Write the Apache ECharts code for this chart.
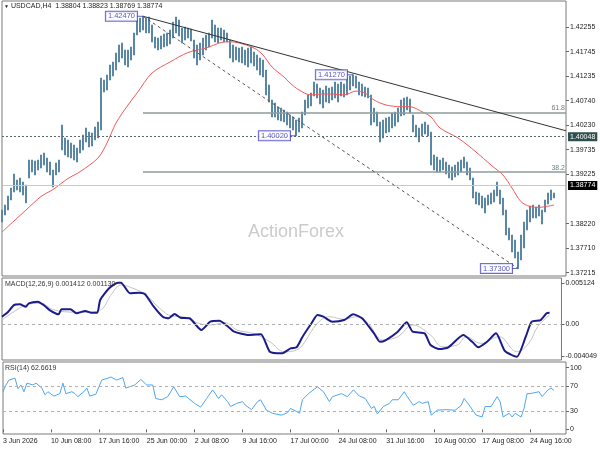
<!DOCTYPE html>
<html><head><meta charset="utf-8">
<script src="https://cdn.jsdelivr.net/npm/echarts@6/dist/echarts.min.js"></script>
<style>html,body{margin:0;padding:0;background:#fff}#c{width:600px;height:450px}</style>
</head><body><div id="c"></div>
<script>
const barHigh = [1.38498,1.38600,1.38785,1.38949,1.39236,1.39113,1.39154,1.39072,1.39010,1.39523,
1.39523,1.39503,1.39523,1.39626,1.39667,1.39564,1.39482,1.39318,1.39462,1.39523,
1.40240,1.39974,1.39933,1.39872,1.39831,1.39769,1.39933,1.40036,1.40179,1.40097,
1.40077,1.40200,1.40302,1.41204,1.41163,1.41266,1.41471,1.41532,1.41717,1.41881,
1.41922,1.41778,1.41778,1.41840,1.42127,1.42393,1.42434,1.42470,1.42434,1.42455,
1.42291,1.42045,1.42024,1.42065,1.42106,1.42127,1.42188,1.42352,1.42455,1.42393,
1.42229,1.42250,1.42229,1.42209,1.41983,1.41881,1.41922,1.42024,1.42086,1.42127,
1.42393,1.42291,1.42229,1.42229,1.42188,1.42127,1.41983,1.41881,1.41840,1.41819,
1.41840,1.41778,1.41819,1.41840,1.41737,1.41676,1.41614,1.41573,1.41368,1.41061,
1.40753,1.40692,1.40610,1.40589,1.40548,1.40507,1.40446,1.40405,1.40343,1.40384,
1.40507,1.40753,1.40856,1.40897,1.41122,1.41081,1.40999,1.40958,1.41040,1.40999,
1.41020,1.41122,1.41081,1.41122,1.41081,1.41204,1.41245,1.41270,1.41245,1.41122,
1.41081,1.41020,1.40999,1.40856,1.40589,1.40507,1.40302,1.40343,1.40384,1.40405,
1.40487,1.40507,1.40589,1.40753,1.40794,1.40815,1.40774,1.40446,1.40240,1.40179,
1.40261,1.40302,1.40240,1.40097,1.39626,1.39585,1.39523,1.39564,1.39482,1.39420,
1.39380,1.39420,1.39482,1.39523,1.39585,1.39482,1.39359,1.39154,1.38867,1.38847,
1.38785,1.38744,1.38806,1.38847,1.38908,1.39072,1.38908,1.38744,1.38498,1.38129,
1.37985,1.37883,1.37637,1.37985,1.38252,1.38498,1.38580,1.38600,1.38559,1.38600,
1.38498,1.38703,1.38847,1.38908,1.38847];
const barLow = [1.38252,1.38395,1.38498,1.38703,1.38867,1.38908,1.38867,1.38805,1.38642,1.39154,
1.39277,1.39216,1.39318,1.39359,1.39420,1.39277,1.39216,1.38969,1.39216,1.39277,
1.39728,1.39626,1.39585,1.39564,1.39523,1.39482,1.39667,1.39728,1.39892,1.39790,
1.39810,1.39933,1.39974,1.40138,1.40917,1.40958,1.41163,1.41245,1.41368,1.41532,
1.41614,1.41471,1.41430,1.41573,1.41676,1.42086,1.42147,1.42188,1.42127,1.42127,
1.41942,1.41819,1.41778,1.41799,1.41840,1.41860,1.41901,1.42024,1.42127,1.42065,
1.41922,1.41983,1.42024,1.41963,1.41614,1.41471,1.41573,1.41676,1.41778,1.41840,
1.42024,1.41942,1.41922,1.41983,1.41942,1.41942,1.41614,1.41532,1.41573,1.41532,
1.41512,1.41471,1.41430,1.41512,1.41450,1.41368,1.41266,1.41225,1.40856,1.40712,
1.40405,1.40405,1.40343,1.40323,1.40302,1.40240,1.40179,1.40138,1.40020,1.40097,
1.40179,1.40446,1.40589,1.40630,1.40835,1.40794,1.40671,1.40589,1.40712,1.40692,
1.40753,1.40794,1.40712,1.40835,1.40815,1.40856,1.40958,1.41040,1.40999,1.40856,
1.40835,1.40815,1.40794,1.40240,1.40302,1.40220,1.39892,1.39974,1.40077,1.40097,
1.40179,1.40220,1.40302,1.40425,1.40446,1.40548,1.40487,1.40097,1.39995,1.39892,
1.40015,1.40056,1.40015,1.39420,1.39318,1.39277,1.39277,1.39318,1.39236,1.39154,
1.39113,1.39175,1.39216,1.39277,1.39359,1.39216,1.39113,1.38744,1.38621,1.38600,
1.38539,1.38436,1.38600,1.38621,1.38662,1.38785,1.38621,1.38395,1.37985,1.37883,
1.37637,1.37514,1.37300,1.37473,1.37719,1.38088,1.38252,1.38334,1.38334,1.38375,
1.38211,1.38457,1.38621,1.38703,1.38744];
const maPoints = [[0,1.38047],[4,1.38273],[8,1.38498],[13,1.38775],[17,1.38918],[22,1.39144],[26,1.39283],
[32,1.39564],[35,1.39872],[38,1.40282],[42,1.40651],[45,1.40896],[50,1.41306],[56,1.41532],[62,1.41727],
[68,1.41819],[73,1.41932],[76,1.41948],[79,1.41922],[84,1.41819],[87,1.41676],[90,1.41430],[94,1.41225],
[96,1.41102],[99,1.40958],[103,1.40856],[106,1.40876],[110,1.40876],[114,1.40856],[118,1.40937],[121,1.40896],
[124,1.40753],[128,1.40651],[133,1.40616],[136,1.40616],[140,1.40513],[143,1.40405],[146,1.40179],[152,1.39974],
[158,1.39687],[163,1.39420],[167,1.39215],[170,1.38949],[173,1.38668],[176,1.38570],[179,1.38553],[181,1.38566],[184,1.38600]];
const macdPoints = [[0,0.00091],[2,0.00150],[4,0.00238],[6,0.00247],[8,0.00217],[9,0.00260],[12,0.00280],[14,0.00238],
[16,0.00175],[19,0.00121],[20,0.00184],[23,0.00184],[25,0.00134],[28,0.00163],[30,0.00141],[32,0.00141],[33,0.00302],
[36,0.00449],[39,0.00520],[40,0.00520],[43,0.00386],[46,0.00394],[48,0.00377],[51,0.00217],[54,0.00091],[56,0.00071],
[58,0.00125],[60,0.00078],[63,0.00071],[67,-0.00077],[70,0.00028],[73,0.00040],[76,-0.00035],[78,-0.00098],[83,-0.00140],
[87,-0.00131],[90,-0.00351],[94,-0.00371],[97,-0.00308],[99,-0.00295],[101,-0.00161],[104,0.00008],[106,0.00112],
[108,0.00091],[111,0.00028],[115,0.00049],[118,0.00121],[121,0.00071],[125,-0.00119],[127,-0.00225],[129,-0.00203],
[133,-0.00098],[136,0.00020],[138,-0.00098],[142,-0.00119],[144,-0.00266],[147,-0.00317],[150,-0.00295],[155,-0.00140],
[158,-0.00225],[160,-0.00295],[163,-0.00225],[166,-0.00119],[169,-0.00342],[173,-0.00414],[176,-0.00161],[178,0.00028],
[181,0.00049],[183,0.00134],[184,0.00141]];
const signalPoints = [[0,0.00049],[4,0.00154],[8,0.00238],[13,0.00260],[17,0.00184],[21,0.00154],[28,0.00146],[33,0.00175],
[37,0.00386],[40,0.00491],[44,0.00449],[48,0.00377],[53,0.00197],[57,0.00100],[61,0.00091],[66,0.00008],[70,-0.00014],
[75,0.00015],[79,-0.00077],[85,-0.00127],[90,-0.00225],[95,-0.00351],[99,-0.00329],[101,-0.00266],[106,0.00008],
[110,0.00091],[115,0.00058],[119,0.00091],[123,0.00008],[128,-0.00203],[133,-0.00161],[138,-0.00014],[144,-0.00140],
[148,-0.00288],[153,-0.00266],[156,-0.00161],[161,-0.00245],[167,-0.00161],[173,-0.00351],[177,-0.00245],[180,-0.00035],[184,0.00113]];
const rsiPoints = [[0,61],[1,72],[2,80],[4,83],[5,66],[6,72],[7,61],[8,75],[10,72],[11,75],[13,67],[14,56],[15,61],[17,54],
[19,58],[20,75],[21,58],[23,61],[24,58],[25,53],[27,61],[28,67],[29,54],[31,57],[33,80],[35,83],[36,85],[38,80],[40,84],
[41,67],[44,72],[46,81],[48,72],[50,72],[51,50],[53,48],[55,53],[57,69],[59,53],[61,54],[64,42],[66,36],[68,50],[70,64],
[72,50],[73,56],[75,45],[76,37],[78,42],[80,45],[81,39],[83,32],[85,45],[86,48],[88,31],[90,26],[93,23],[95,27],[96,34],
[98,29],[99,26],[100,48],[102,58],[105,69],[107,61],[109,45],[110,53],[113,58],[115,53],[117,64],[119,54],[121,50],
[123,34],[124,37],[125,25],[127,37],[129,42],[130,48],[132,48],[134,61],[135,53],[137,39],[139,45],[140,42],[142,45],
[143,23],[145,31],[148,32],[151,31],[153,39],[154,50],[156,37],[158,23],[160,20],[161,37],[163,37],[165,53],[166,45],
[167,20],[169,26],[170,20],[171,26],[173,20],[174,34],[175,58],[176,58],[177,59],[179,61],[180,53],[182,64],[183,67],[184,63]];

const timeLabels = ['3 Jun 2026','10 Jun 08:00','17 Jun 16:00','25 Jun 00:00','2 Jul 08:00','9 Jul 16:00',
  '17 Jul 00:00','24 Jul 08:00','31 Jul 16:00','10 Aug 00:00','17 Aug 08:00','24 Aug 16:00'];
const labelEvery = 16;
const priceTicks = [1.42255,1.41745,1.41235,1.40740,1.40230,1.39735,1.39225,1.38220,1.37710,1.37215];
const macdTicks = [0.005124, 0, -0.004049];
const rsiTicks = [100, 70, 30, 0];
const lastQuote = [1.38804, 1.38823, 1.38769, 1.38774];
const lastClose = 1.38774;
const keyLevel = 1.40048;
const swingIdx = [47, 117, 98, 172];
const swingPrice = [1.42470, 1.41270, 1.40020, 1.37300];
const fibHigh = 1.42470, fibLow = 1.37300, fibStartIdx = 47;
const fibRatios = [0.382, 0.618];
const trendSolid = [[47, 1.42470], [188, 1.40122]];
const trendDashed = [[47, 1.42470], [172, 1.37300]];
const macdLast = [0.001412, 0.001130];
const rsiLast = 62.6619;

// ---- chart ----
const FONT = '"Liberation Sans", Arial, sans-serif';
const N_CAT = 189;
const cats = Array.from({length: N_CAT}, (_, i) => String(i));
const BAR = '#5a87a5';
const candleData = barLow.map((l, i) => [l, barHigh[i], l, barHigh[i]]);
const lastCat = N_CAT - 1;

const xBase = {type: 'category', data: cats, boundaryGap: false,
  axisLine: {show: false}, axisTick: {show: false}, axisLabel: {show: false}, splitLine: {show: false}};
const yBase = {type: 'value', position: 'right', scale: true, splitLine: {show: false}, axisLine: {show: false}};
const tickStyle = {show: true, length: 3, lineStyle: {color: '#666'}};
const labStyle = {fontSize: 7, color: '#222', margin: 4, fontFamily: FONT};
const gridBase = {left: 2, right: 34, show: true, borderColor: '#7a7a7a', borderWidth: 1, backgroundColor: '#fff'};

const lineMarks = [
  {yAxis: keyLevel, lineStyle: {color: '#5a6c6c', type: [2, 2], width: 1},
   label: {show: true, position: 'end', distance: 2, formatter: keyLevel.toFixed(5), backgroundColor: '#2f4f4f',
     color: '#fff', padding: [1, 2, 1, 2], fontSize: 7, fontFamily: FONT}},
  {yAxis: lastClose, lineStyle: {color: '#c8c8c8', type: 'solid', width: 1},
   label: {show: true, position: 'end', distance: 2, formatter: lastClose.toFixed(5), backgroundColor: '#000',
     color: '#fff', padding: [1, 2, 1, 2], fontSize: 7, fontFamily: FONT}}
];
fibRatios.forEach(r => {
  const lvl = fibLow + r * (fibHigh - fibLow);
  lineMarks.push([
    {coord: [fibStartIdx, lvl], lineStyle: {color: '#8d9c9c', width: 1.5, type: 'solid'},
     label: {show: true, position: 'insideEndTop', distance: [1, 1], formatter: (r * 100).toFixed(1),
       color: '#6f8080', fontSize: 7, fontFamily: FONT}},
    {coord: [lastCat, lvl]}
  ]);
});
lineMarks.push([{coord: trendSolid[0], lineStyle: {color: '#333', width: 1, type: 'solid'}, label: {show: false}}, {coord: trendSolid[1]}]);
lineMarks.push([{coord: trendDashed[0], lineStyle: {color: '#555', width: 1, type: [3, 3]}, label: {show: false}}, {coord: trendDashed[1]}]);

const option = {
  animation: false,
  backgroundColor: '#fff',
  textStyle: {fontFamily: FONT},
  title: [
    {text: '{t|▼} USDCAD,H4  ' + lastQuote.map(v => v.toFixed(5)).join(' '), left: 4, top: 3, padding: 0,
     textStyle: {fontSize: 7, fontWeight: 'normal', color: '#222', fontFamily: FONT,
       rich: {t: {fontSize: 5, color: '#222'}}}},
    {text: 'MACD(12,26,9) ' + macdLast.map(v => v.toFixed(6)).join(' '), left: 5, top: 281, padding: 0,
     textStyle: {fontSize: 7, fontWeight: 'normal', color: '#333', fontFamily: FONT}},
    {text: 'RSI(14) ' + rsiLast.toFixed(4), left: 5, top: 365, padding: 0,
     textStyle: {fontSize: 7, fontWeight: 'normal', color: '#333', fontFamily: FONT}},
    {text: 'ActionForex', left: 248, top: 223, padding: 0,
     textStyle: {fontSize: 18, fontWeight: 'normal', color: '#cbcbcb', fontFamily: FONT}}
  ],
  grid: [
    Object.assign({top: 1, height: 275}, gridBase),
    Object.assign({top: 278, height: 82}, gridBase),
    Object.assign({top: 362, height: 72}, gridBase)
  ],
  xAxis: [
    Object.assign({gridIndex: 0}, xBase),
    Object.assign({gridIndex: 1}, xBase),
    Object.assign({}, xBase, {gridIndex: 2,
      axisTick: Object.assign({}, tickStyle, {interval: i => i % labelEvery === 0}),
      axisLabel: Object.assign({}, labStyle, {show: true, align: 'left', margin: 4,
        interval: i => i % labelEvery === 0,
        formatter: (v, i) => (i % labelEvery === 0 ? (timeLabels[i / labelEvery] || '') : '')})})
  ],
  yAxis: [
    Object.assign({}, yBase, {gridIndex: 0, min: 1.37145, max: 1.42783,
      axisTick: Object.assign({customValues: priceTicks}, tickStyle),
      axisLabel: Object.assign({customValues: priceTicks, formatter: v => Number(v).toFixed(5)}, labStyle)}),
    Object.assign({}, yBase, {gridIndex: 1, min: -0.00455, max: 0.00579,
      axisTick: Object.assign({customValues: macdTicks}, tickStyle),
      axisLabel: Object.assign({customValues: macdTicks, formatter: v => (Number(v) === 0 ? '0.00' : Number(v).toFixed(6))}, labStyle)}),
    Object.assign({}, yBase, {gridIndex: 2, min: -7.6, max: 109.3,
      axisTick: Object.assign({customValues: rsiTicks}, tickStyle),
      axisLabel: Object.assign({customValues: rsiTicks, formatter: v => String(Math.round(v))}, labStyle)})
  ],
  series: [
    {type: 'candlestick', xAxisIndex: 0, yAxisIndex: 0, data: candleData, barWidth: 1.6, silent: true,
     itemStyle: {color: BAR, color0: BAR, borderColor: BAR, borderColor0: BAR, borderWidth: 1}},
    {type: 'line', xAxisIndex: 0, yAxisIndex: 0, data: maPoints, smooth: 0.3, symbol: 'none', silent: true,
     lineStyle: {color: '#f25a5a', width: 1}, z: 3,
     markLine: {symbol: ['none', 'none'], silent: true, animation: false, label: {show: false}, data: lineMarks}},
    {type: 'scatter', xAxisIndex: 0, yAxisIndex: 0, data: swingIdx.map((x, k) => [x, swingPrice[k]]),
     symbol: 'rect', symbolSize: [6, 1], symbolOffset: [-3, 0], itemStyle: {color: '#3a3ab8'}, z: 6, silent: true,
     label: {show: true, position: 'left', distance: 0, formatter: p => p.value[1].toFixed(5),
       color: '#2c2cae', backgroundColor: '#fff', borderColor: '#4545c2', borderWidth: 1,
       padding: [1, 2, 0, 2], fontSize: 7.5, fontFamily: FONT}},
    {type: 'line', xAxisIndex: 1, yAxisIndex: 1, data: signalPoints, smooth: 0.4, symbol: 'none', silent: true,
     lineStyle: {color: '#c4c4c4', width: 1}},
    {type: 'line', xAxisIndex: 1, yAxisIndex: 1, data: macdPoints, smooth: 0.2, symbol: 'none', silent: true,
     lineStyle: {color: '#1b1b8c', width: 2},
     markLine: {symbol: ['none', 'none'], silent: true, label: {show: false},
       lineStyle: {color: '#b0b0b0', type: [3, 3], width: 1}, data: [{yAxis: 0}]}},
    {type: 'line', xAxisIndex: 2, yAxisIndex: 2, data: rsiPoints, symbol: 'none', silent: true,
     lineStyle: {color: '#4fa6f2', width: 1},
     markLine: {symbol: ['none', 'none'], silent: true, label: {show: false},
       lineStyle: {color: '#b0b0b0', type: [3, 3], width: 1}, data: [{yAxis: 70}, {yAxis: 30}]}}
  ]
};
const chart = echarts.init(document.getElementById('c'), null, {renderer: 'canvas'});
chart.setOption(option);
</script>
</body></html>
